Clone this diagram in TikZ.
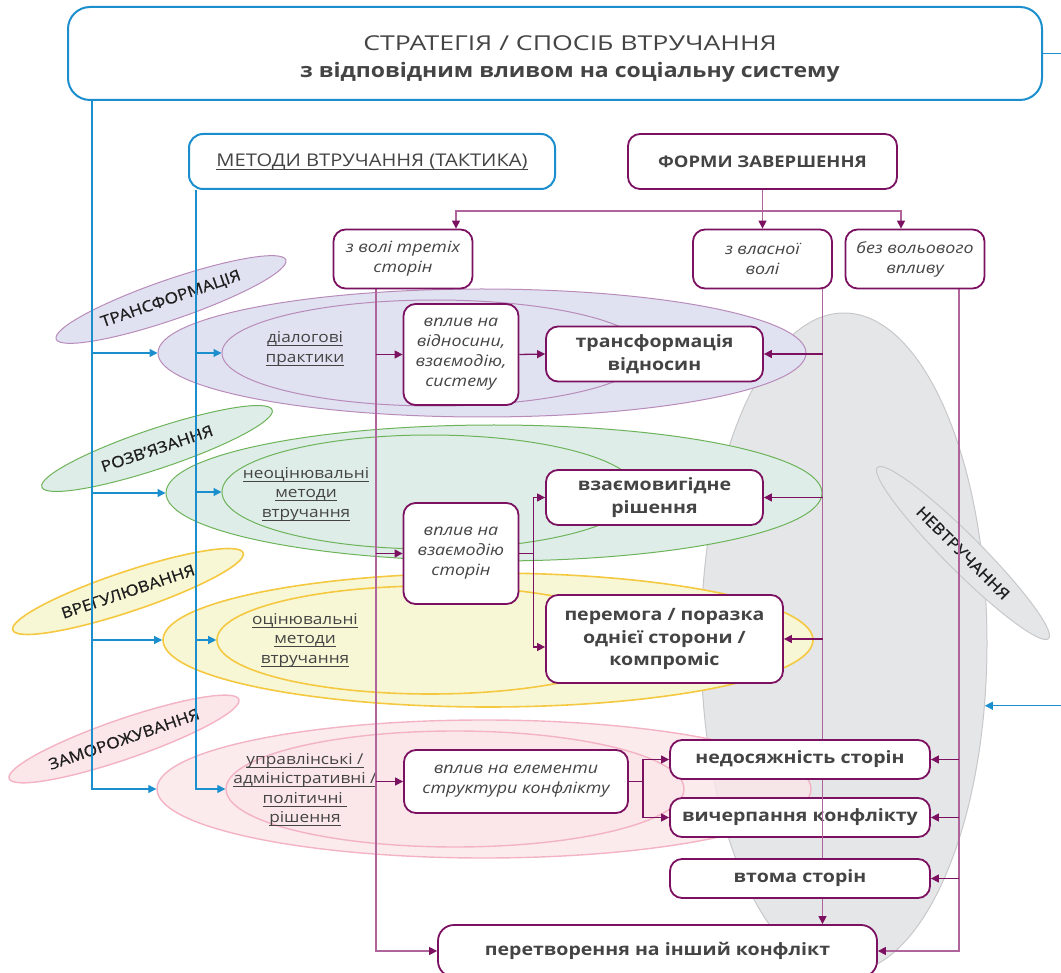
\documentclass[tikz,border=0pt]{standalone}
\usepackage{fontspec}
\setmainfont{Open Sans}[FakeStretch=1.15]
\newfontfamily\wideti{Open Sans}[FakeStretch=1.3]
\newfontfamily\labf{Open Sans}[FakeStretch=1.12,FakeBold=0.6]
\usetikzlibrary{shapes.geometric,arrows.meta}
\pgfdeclarelayer{back}
\pgfdeclarelayer{mid}
\pgfsetlayers{back,mid,main}
\definecolor{blu}{HTML}{1B8FCD}
\definecolor{purp}{HTML}{7B1160}
\definecolor{lpur}{HTML}{B0649C}
\definecolor{txt}{HTML}{444444}
\definecolor{gfill}{HTML}{E5E6E8}
\definecolor{gline}{HTML}{C8C8CA}
\definecolor{lavf}{HTML}{E0E2F1}
\definecolor{lavl}{HTML}{B98BBA}
\definecolor{grnf}{HTML}{DEEDE7}
\definecolor{grnl}{HTML}{6DB35A}
\definecolor{yelf}{HTML}{F8F7D5}
\definecolor{yell}{HTML}{F5C842}
\definecolor{pnkf}{HTML}{FBE6E9}
\definecolor{pnkl}{HTML}{F3B3C4}
\newcommand\uln[1]{\setbox0=\hbox{#1}\leavevmode\rlap{\rule[-3.2pt]{\wd0}{0.9pt}}\box0}
\tikzset{
  ell/.style={ellipse, inner sep=0pt, line width=1pt},
  pbox/.style={draw=purp, line width=1.8pt, rounded corners=12pt, fill=white, align=center, inner sep=0pt, text=txt},
  itbox/.style={pbox, font=\fontsize{15.5}{20}\selectfont\itshape},
  bdbox/.style={pbox, font=\fontsize{17}{22.5}\selectfont\bfseries},
  bl/.style={draw=blu, line width=1.2pt},
  blar/.style={bl, -{Triangle[length=8pt,width=8pt]}},
  lp/.style={draw=lpur, line width=1.3pt},
  lpar/.style={lp, -{Triangle[length=8pt,width=8pt,color=purp]}},
  dk/.style={draw=purp, line width=1.3pt},
  dkar/.style={dk, -{Triangle[length=8pt,width=8pt]}},
  ulab/.style={align=center, text=txt, font=\fontsize{15}{19.5}\selectfont},
  rlab/.style={ell, font=\labf\fontsize{15.5}{18}\selectfont, text=black!88},
}
\begin{document}
\begin{tikzpicture}[x=1pt,y=-1pt]
\useasboundingbox (0,0) rectangle (1061,973);
\clip (0,0) rectangle (1061,973);
\begin{pgfonlayer}{back}
% big grey area and non-intervention label
\node[ell, draw=gline, fill=gfill, minimum width=286pt, minimum height=660pt] (grey) at (844,643) {};
\node[rlab, draw=gline, fill=gfill, minimum width=242pt, minimum height=36pt, rotate=-45] (nevtr) at (963,553) {НЕВТРУЧАННЯ};
% coloured groups
\node[ell, draw=lavl, fill=lavf, minimum width=648pt, minimum height=128pt] (lavO) at (482,353) {};
\node[ell, draw=lavl, fill=lavf, minimum width=426pt, minimum height=106pt] (lavI) at (435,353) {};
\node[ell, draw=grnl, fill=grnf, minimum width=656pt, minimum height=136pt] (grnO) at (494,493) {};
\node[ell, draw=grnl, fill=grnf, minimum width=416pt, minimum height=114pt] (grnI) at (430,492) {};
\node[ell, draw=yell, fill=yelf, line width=1.6pt, minimum width=650pt, minimum height=134pt] (yelO) at (488,640) {};
\node[ell, draw=yell, fill=yelf, line width=1.6pt, minimum width=426pt, minimum height=108pt] (yelI) at (430,640) {};
\node[ell, draw=pnkl, fill=pnkf, fill opacity=0.8, line width=1.4pt, minimum width=654pt, minimum height=138pt] (pnkO) at (484,789) {};
\node[ell, draw=pnkl, fill=pnkf, fill opacity=0.8, line width=1.4pt, minimum width=458pt, minimum height=116pt] (pnkI) at (455,789) {};
% rotated strategy labels
\node[rlab, draw=lavl, fill=lavf, minimum width=243pt, minimum height=40pt, rotate=19] (lab1) at (171,299.5) {ТРАНСФОРМАЦІЯ};
\node[rlab, draw=grnl, fill=grnf, minimum width=243pt, minimum height=40pt, rotate=18.5] (lab2) at (157,448.5) {РОЗВ’ЯЗАННЯ};
\node[rlab, draw=yell, fill=yelf, line width=1.6pt, minimum width=243pt, minimum height=40pt, rotate=18.5] (lab3) at (128,591.5) {ВРЕГУЛЮВАННЯ};
\node[rlab, draw=pnkl, fill=pnkf, line width=1.4pt, minimum width=243pt, minimum height=40pt, rotate=19] (lab4) at (124,739) {ЗАМОРОЖУВАННЯ};
% method labels
\node[ulab] (m1) at (305,349) {\uln{діалогові}\\\uln{практики}};
\node[ulab] (m2) at (306,494) {\uln{неоцінювальні}\\\uln{методи}\\\uln{втручання}};
\node[ulab] (m3) at (305,640) {\uln{оцінювальні}\\\uln{методи}\\\uln{втручання}};
\node[ulab] (m4) at (305,790) {\uln{управлінські /}\\\uln{адміністративні /}\\\uln{політичні\ }\\\uln{рішення}};
\end{pgfonlayer}
% header boxes
\node[draw=blu, line width=2pt, rounded corners=22pt, minimum width=974pt, minimum height=93pt, inner sep=0pt] (top) at (555,53.5) {};
\node[text=txt, align=center, font=\fontsize{20}{27}\selectfont] (ttl) at (570,59) {{\wideti\fontsize{20.5}{27}\selectfont СТРАТЕГІЯ / СПОСІБ ВТРУЧАННЯ}\\{\bfseries з відповідним вливом на соціальну систему}};
\node[draw=blu, line width=2pt, rounded corners=14pt, minimum width=366pt, minimum height=55pt, inner sep=0pt, fill=white, text=txt, font=\fontsize{17.5}{20}\selectfont] (metody) at (372,161.5) {\uln{МЕТОДИ ВТРУЧАННЯ (ТАКТИКА)}};
\node[pbox, minimum width=269pt, minimum height=55pt, font=\fontsize{16}{20}\selectfont\bfseries] (formy) at (762.5,161.5) {ФОРМИ ЗАВЕРШЕННЯ};
% purple boxes
\node[itbox, minimum width=139pt, minimum height=59pt] (v3) at (403,259) {з волі третіх\\сторін};
\node[itbox, minimum width=139pt, minimum height=59pt] (vlasna) at (762.5,259) {з власної\\волі};
\node[itbox, minimum width=139pt, minimum height=59pt] (bez) at (915,259) {без вольового\\впливу};
\node[itbox, minimum width=115pt, minimum height=101pt] (vp1) at (461,354.5) {вплив на\\відносини,\\взаємодію,\\систему};
\node[itbox, minimum width=115pt, minimum height=101pt] (vp2) at (461,553.5) {вплив на\\взаємодію\\сторін};
\node[itbox, minimum width=224pt, minimum height=63pt] (vp3) at (516,781.5) {вплив на елементи\\структури конфлікту};
\node[bdbox, minimum width=217pt, minimum height=55pt] (transf) at (654.5,354) {трансформація\\відносин};
\node[bdbox, minimum width=217pt, minimum height=55pt] (vzaem) at (654.5,497.5) {взаємовигідне\\рішення};
\node[bdbox, minimum width=237pt, minimum height=88pt] (perem) at (664.5,639) {перемога / поразка\\однієї сторони /\\компроміс};
\node[bdbox, minimum width=260pt, minimum height=39pt] (nedos) at (800,759.5) {недосяжність сторін};
\node[bdbox, minimum width=260pt, minimum height=39pt] (vych) at (800,817.5) {вичерпання конфлікту};
\node[bdbox, minimum width=260pt, minimum height=39pt] (vtoma) at (800,878.5) {втома сторін};
\node[bdbox, minimum width=439pt, minimum height=52pt, rounded corners=16pt] (peretv) at (657.5,951) {перетворення на інший конфлікт};
\coordinate (bl1) at ([xshift=25pt]top.south west);
\coordinate (bl2) at ([xshift=8pt]metody.south west);
\coordinate (p1) at ([xshift=-27pt]v3.south);
\coordinate (p2) at ([xshift=60pt]vlasna.south);
\coordinate (p3) at ([xshift=44pt]bez.south);
\coordinate (hb) at ([yshift=-21pt]formy.south);
\begin{pgfonlayer}{mid}
% blue connectors
\draw[bl] (top.east) -- ++(40,0);
\draw[blar] ([xshift=90pt]grey.-24) -- (grey.-24);
\draw[blar] (bl1) |- (pnkO.west);
\draw[blar] (lavO.west -| bl1) -- (lavO.west);
\draw[blar] (grnO.west -| bl1) -- (grnO.west);
\draw[blar] (yelO.west -| bl1) -- (yelO.west);
\draw[blar] (bl2) |- (pnkI.west);
\draw[blar] (lavI.west -| bl2) -- (lavI.west);
\draw[blar] (grnI.west -| bl2) -- (grnI.west);
\draw[blar] (yelI.west -| bl2) -- (yelI.west);
% purple connectors
\draw[lpar] (formy.south) -- (vlasna.north);
\draw[lpar] (hb) -| ([xshift=53pt]v3.north);
\draw[lpar] (hb) -| ([xshift=-14pt]bez.north);
\draw[lpar] (p1) |- (peretv.west);
\draw[dkar] (vp1.west -| p1) -- (vp1.west);
\draw[dkar] (vp2.west -| p1) -- (vp2.west);
\draw[dkar] (vp3.west -| p1) -- (vp3.west);
\draw[lpar] (p2) -- (peretv.north -| p2);
\draw[dkar] (transf.east -| p2) -- (transf.east);
\draw[dkar] (vzaem.east -| p2) -- (vzaem.east);
\draw[dkar] (perem.east -| p2) -- (perem.east);
\draw[lpar] (p3) |- (peretv.east);
\draw[dkar] (nedos.east -| p3) -- (nedos.east);
\draw[dkar] (vych.east -| p3) -- (vych.east);
\draw[dkar] (vtoma.east -| p3) -- (vtoma.east);
\draw[dkar] (vp1.east) -- (transf.west);
\draw[dk] (vp2.east) -- ++(14,0) coordinate (s2);
\draw[dkar] (s2) |- (vzaem.west);
\draw[dkar] (s2) |- ([yshift=-8pt]perem.west);
\draw[dk] (vp3.east) -- ++(14,0) coordinate (s3);
\draw[dkar] (s3) |- (nedos.west);
\draw[dkar] (s3) |- (vych.west);
\end{pgfonlayer}
\draw[lp] (vych.north -| p2) -- (vych.south -| p2);
\end{tikzpicture}
\end{document}
